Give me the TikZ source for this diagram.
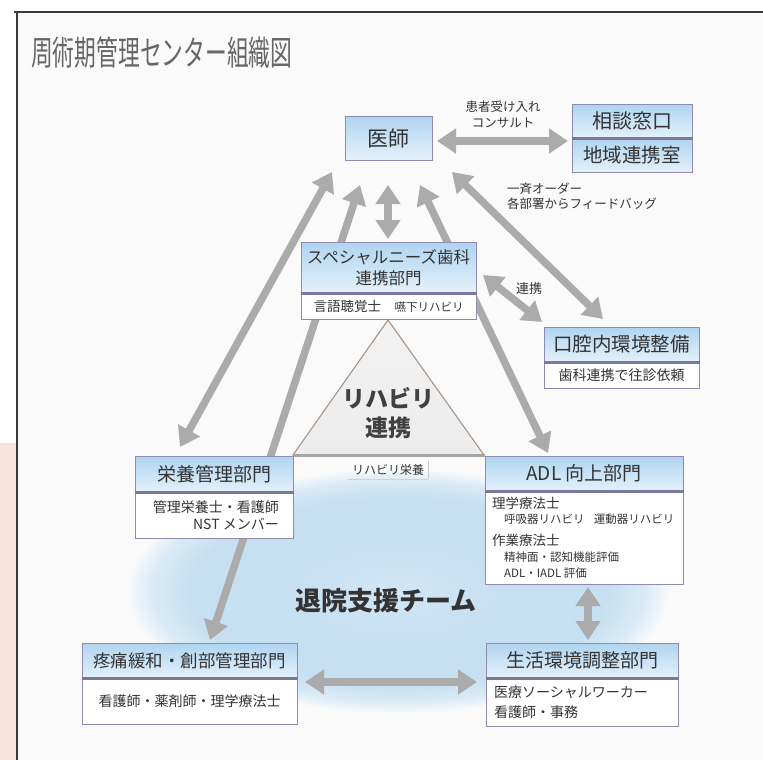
\documentclass[tikz,border=0pt]{standalone}
\usepackage{fontspec}
\usepackage{graphicx}
\setmainfont{Noto Sans CJK JP}
\usetikzlibrary{arrows.meta}
\definecolor{bgc}{HTML}{FAFAFA}
\definecolor{framec}{HTML}{3A3A3A}
\definecolor{pinkc}{HTML}{F8E4DA}
\definecolor{titlec}{HTML}{666666}
\definecolor{txt}{HTML}{333333}
\definecolor{boxln}{HTML}{8E8AB0}
\definecolor{divln}{HTML}{7D7899}
\definecolor{hdrT}{HTML}{AFD4F0}
\definecolor{hdrB}{HTML}{E4F1FB}
\definecolor{arr}{HTML}{ABABAB}
\definecolor{blobC}{HTML}{D2E7F6}
\definecolor{blobM}{HTML}{C6DFF1}
\definecolor{blobE}{HTML}{D8EAF6}
\definecolor{triF}{HTML}{ECECEC}
\definecolor{triL}{HTML}{A89585}
\definecolor{barc}{HTML}{A5A5A5}
\pgfdeclareradialshading{blobshade}{\pgfpoint{0bp}{0bp}}{color(0bp)=(blobC); color(10bp)=(blobM); color(19bp)=(blobM); color(22.5bp)=(blobE); color(25bp)=(bgc); color(50bp)=(bgc)}
\newcommand\fsz[2]{\fontsize{#1}{#2}\selectfont}
\tikzset{
  hdr/.style={draw=boxln, line width=1pt, top color=hdrT, bottom color=hdrB, text=txt, inner sep=0pt, align=center},
  bodybox/.style={draw=boxln, line width=1pt, fill=white, inner sep=0pt},
  divider/.style={draw=divln, line width=2.8pt},
  garrow/.style={draw=arr, line width=7.5pt, {Triangle[width=24pt,length=19pt]}-{Triangle[width=24pt,length=19pt]}},
  lbl/.style={text=txt, inner sep=0pt},
}
\begin{document}
\begin{tikzpicture}[x=1pt,y=-1pt]
\useasboundingbox (0,0) rectangle (763,760);
% background and frame
\fill[white] (0,0) rectangle (763,760);
\fill[pinkc] (0,443) rectangle (16,760);
\fill[bgc] (17,12) rectangle (763,760);
\draw[framec, line width=1.8pt] (14,12) -- (763,12);
\draw[framec, line width=1.8pt] (17,11) -- (17,760);
% title
\node[anchor=west, text=titlec, inner sep=0pt] (title) at (31,53) {\scalebox{0.64}[1]{\fsz{34}{34}周術期管理センター組織図}};
% blob
\path[shading=blobshade] (398,591) ellipse [x radius=272, y radius=122];
% triangle
\draw[triL, line width=1.1pt, top color=triF!70!white, bottom color=triF] (388,320) -- (293,455) -- (484,455) -- cycle;
\draw[barc, line width=3pt] (293,455) -- (485,455);
\node[lbl, font={\fsz{23}{29}\bfseries}, text=black!75, align=center] (riha) at (388,413) {リハビリ\\連携};
% arrow end coordinates
\coordinate (a1s) at (437,141); \coordinate (a1e) at (568,141);
\coordinate (a2s) at (332,172); \coordinate (a2e) at (180,447);
\coordinate (a3s) at (360,185); \coordinate (a3e) at (210,640);
\coordinate (a4s) at (388,185); \coordinate (a4e) at (388,239);
\coordinate (a5s) at (420,185); \coordinate (a5e) at (548,453);
\coordinate (a6s) at (452,172); \coordinate (a6e) at (603,319);
\coordinate (a7s) at (483,275); \coordinate (a7e) at (542,322);
\coordinate (a8s) at (305,682); \coordinate (a8e) at (477,682);
\coordinate (a9s) at (588,587); \coordinate (a9e) at (588,640);
\draw[garrow] (a1s) -- (a1e);
\draw[garrow] (a2s) -- (a2e);
\draw[garrow] (a3s) -- (a3e);
\draw[garrow] (a4s) -- (a4e);
\draw[garrow] (a5s) -- (a5e);
\draw[garrow] (a6s) -- (a6e);
\draw[garrow] (a7s) -- (a7e);
\draw[garrow] (a8s) -- (a8e);
\draw[garrow] (a9s) -- (a9e);
% arrow labels
\node[lbl, font={\fsz{12.5}{16}}, align=center] (lbl1) at (503,115) {患者受け入れ\\コンサルト};
\node[lbl, font={\fsz{12.5}{15.5}}, align=left, anchor=west] (lbl2) at (507,196) {一斉オーダー\\各部署からフィードバッグ};
\node[lbl, font={\fsz{13}{13}}] (lbl3) at (529,289) {連携};
% boxes
% 医師
\node[hdr, minimum width=87pt, minimum height=44pt, font={\fsz{21}{21}}] (ishi) at (388.5,138) {医師};
% 相談窓口
\node[hdr, minimum width=120pt, minimum height=34pt, font={\fsz{20}{20}}] (soudanA) at (632,121) {相談窓口};
\node[hdr, minimum width=120pt, minimum height=34pt, font={\fsz{19.5}{20}}] (soudanB) at (632,155) {地域連携室};
\draw[divider] (soudanA.south west) -- (soudanA.south east);
% スペシャルニーズ
\node[hdr, minimum width=175pt, minimum height=51pt, font={\fsz{16.5}{21.5}}] (sp) at (388.5,267.5) {スペシャルニーズ歯科\\連携部門};
\node[bodybox, minimum width=175pt, minimum height=25pt, anchor=north] (spb) at (sp.south) {};
\node[lbl, font={\fsz{13.5}{14}}] (spt) at (spb.center) {言語聴覚士\hspace{1em}{\fsz{11.5}{12}嚥下リハビリ}};
\draw[divider] (sp.south west) -- (sp.south east);
% 口腔内環境整備
\node[hdr, minimum width=155pt, minimum height=35pt, font={\fsz{19.5}{20}}] (kk) at (621.5,344.5) {口腔内環境整備};
\node[bodybox, minimum width=155pt, minimum height=25pt, anchor=north] (kkb) at (kk.south) {};
\node[lbl, font={\fsz{14}{14}}] (kkt) at (kkb.center) {歯科連携で往診依頼};
\draw[divider] (kk.south west) -- (kk.south east);
% リハビリ栄養 label
\node[lbl, font={\fsz{12}{12}}, minimum width=80pt, minimum height=18pt] (rn) at (388,470) {リハビリ栄養};
\draw[barc!60!white, line width=1pt] (rn.north east) -- (rn.south east);
\draw[barc!50!white, line width=1.2pt] (rn.south west) -- (rn.south east);
% 栄養管理部門
\node[hdr, minimum width=158pt, minimum height=36pt, font={\fsz{19}{19}}] (ey) at (214,474) {栄養管理部門};
\node[bodybox, minimum width=158pt, minimum height=45pt, anchor=north] (eyb) at (ey.south) {};
\node[lbl, font={\fsz{14}{17}}, align=right, anchor=east] (eyt) at (279,515) {管理栄養士・看護師\\NST メンバー};
\draw[divider] (ey.south west) -- (ey.south east);
% ADL 向上部門
\node[hdr, minimum width=198pt, minimum height=35pt, font={\fsz{19}{19}}] (adl) at (584,473.5) {ADL 向上部門};
\node[bodybox, minimum width=198pt, minimum height=92pt, anchor=north] (adlb) at (adl.south) {};
\node[lbl, font={\fsz{13.5}{14}}, anchor=west] (adl1) at (492,503) {理学療法士};
\node[lbl, font={\fsz{11.5}{12}}, anchor=west] (adl2) at (504,519) {呼吸器リハビリ\hspace{0.8em}運動器リハビリ};
\node[lbl, font={\fsz{13.5}{14}}, anchor=west] (adl3) at (492,540) {作業療法士};
\node[lbl, font={\fsz{11.5}{12}}, anchor=west] (adl4) at (504,557) {精神面・認知機能評価};
\node[lbl, font={\fsz{11.5}{12}}, anchor=west] (adl5) at (504,573) {ADL・IADL 評価};
\draw[divider] (adl.south west) -- (adl.south east);
% 退院支援チーム
\node[lbl, font={\fsz{26}{26}\bfseries}, text=black!80] (taiin) at (386,601) {退院支援チーム};
% 疼痛緩和
\node[hdr, minimum width=215pt, minimum height=35pt, font={\fsz{17.5}{18}}] (tt) at (189.5,660.5) {疼痛緩和・創部管理部門};
\node[bodybox, minimum width=215pt, minimum height=45pt, anchor=north] (ttb) at (tt.south) {};
\node[lbl, font={\fsz{14}{14}}] (ttt) at (ttb.center) {看護師・薬剤師・理学療法士};
\draw[divider] (tt.south west) -- (tt.south east);
% 生活環境調整部門
\node[hdr, minimum width=192pt, minimum height=35pt, font={\fsz{19}{19}}] (sk) at (582,660.5) {生活環境調整部門};
\node[bodybox, minimum width=192pt, minimum height=47pt, anchor=north] (skb) at (sk.south) {};
\node[lbl, font={\fsz{14}{20}}, align=left, anchor=west] (skt) at (494,702) {医療ソーシャルワーカー\\看護師・事務};
\draw[divider] (sk.south west) -- (sk.south east);
\end{tikzpicture}
\end{document}
